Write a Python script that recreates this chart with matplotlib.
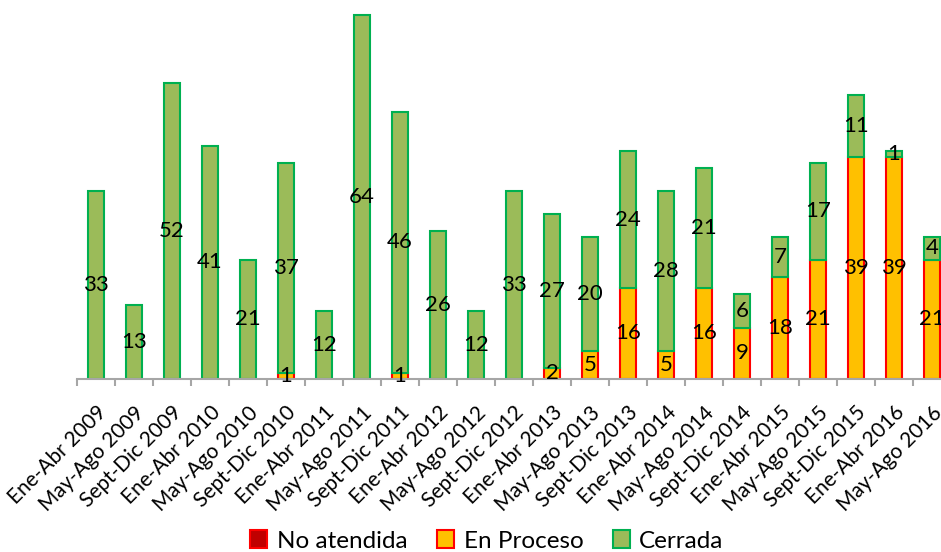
import matplotlib
matplotlib.use("Agg")
import matplotlib.pyplot as plt
from matplotlib.patches import Patch
import numpy as np

plt.rcParams['font.family'] = ['Lato', 'DejaVu Sans']

categories = ["Ene-Abr 2009", "May-Ago 2009", "Sept-Dic 2009",
              "Ene-Abr 2010", "May-Ago 2010", "Sept-Dic 2010",
              "Ene-Abr 2011", "May-Ago 2011", "Sept-Dic 2011",
              "Ene-Abr 2012", "May-Ago 2012", "Sept-Dic 2012",
              "Ene-Abr 2013", "May-Ago 2013", "Sept-Dic 2013",
              "Ene-Abr 2014", "May-Ago 2014", "Sept-Dic 2014",
              "Ene-Abr 2015", "May-Ago 2015", "Sept-Dic 2015",
              "Ene-Abr 2016", "May-Ago 2016"]
no_atendida = [0] * 23
en_proceso = [0, 0, 0, 0, 0, 1, 0, 0, 1, 0, 0, 0, 2, 5, 16, 5, 16, 9, 18, 21, 39, 39, 21]
cerrada = [33, 13, 52, 41, 21, 37, 12, 64, 46, 26, 12, 33, 27, 20, 24, 28, 21, 6, 7, 17, 11, 1, 4]

W, H = 941, 552
fig = plt.figure(figsize=(W / 100, H / 100), dpi=100)
left_px, right_px = 77, 951
base_px = 379
ymax = 66
px_per_unit = 5.69
top_px = base_px - ymax * px_per_unit
ax = fig.add_axes([left_px / W, (H - base_px) / H,
                   (right_px - left_px) / W, (base_px - top_px) / H])

x = np.arange(len(categories))
bw = 0.41
na = np.array(no_atendida)
ep = np.array(en_proceso)
ce = np.array(cerrada)

b1 = ax.bar(x, na, bw, color="#C00000", edgecolor="#FF0000", linewidth=1.5)
b2 = ax.bar(x, ep, bw, bottom=na, color="#FFC000", edgecolor="#FF0000", linewidth=1.5)
b3 = ax.bar(x, ce, bw, bottom=na + ep, color="#9BBB59", edgecolor="#00B050", linewidth=1.5)

lab_fs = 16
ax.bar_label(b2, labels=[str(v) if v else "" for v in en_proceso], label_type="center",
             fontsize=lab_fs, color="black")
ax.bar_label(b3, labels=[str(v) if v else "" for v in cerrada], label_type="center",
             fontsize=lab_fs, color="black")

ax.set_xlim(-0.5, len(categories) - 0.5)
ax.set_ylim(0, ymax)
for s in ["top", "right", "left"]:
    ax.spines[s].set_visible(False)
ax.spines["bottom"].set_color("#A6A6A6")
ax.spines["bottom"].set_linewidth(1.5)
ax.set_yticks([])
ax.set_xticks(x)
ax.set_xticklabels(categories, rotation=45, ha="right", rotation_mode="anchor", fontsize=15)
ax.tick_params(axis="x", which="major", length=0, pad=17)
ax.set_xticks(np.arange(len(categories) + 1) - 0.5, minor=True)
ax.tick_params(axis="x", which="minor", length=5, width=1.5, color="#A6A6A6")

handles = [Patch(facecolor="#C00000", edgecolor="#FF0000", linewidth=1.5, label="No atendida"),
           Patch(facecolor="#FFC000", edgecolor="#FF0000", linewidth=1.5, label="En Proceso"),
           Patch(facecolor="#9BBB59", edgecolor="#00B050", linewidth=1.5, label="Cerrada")]
fig.legend(handles=handles, loc="center", bbox_to_anchor=(487 / W, 1 - 541 / H), ncol=3,
           frameon=False, fontsize=17.5, handlelength=0.7, handleheight=0.7,
           handletextpad=0.4, columnspacing=1.2)

fig.savefig("out.png", dpi=100)
